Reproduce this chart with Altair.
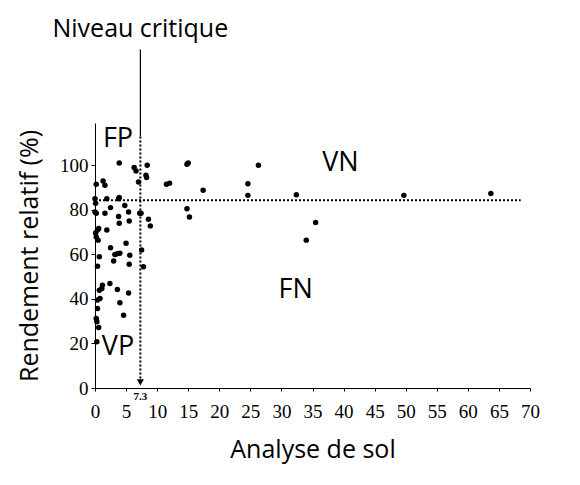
import altair as alt
import pandas as pd

# Soil analysis (x) vs relative yield (%) (y)
sol = [0.2, 1.3, 1.6, 3.9, 6.3, 6.6, 7.0, 8.4, 8.2, 8.3, 11.5, 12.0, 14.8, 15.0,
       0.0, 0.1, 0.0, 0.2, 1.9, 1.6, 2.5, 3.8, 3.9, 4.8, 3.8, 3.9, 5.4, 5.5,
       7.2, 7.4, 8.6, 8.9, 14.8, 15.2,
       0.6, 0.4, 0.1, 0.2, 0.5, 1.9, 2.5, 3.2, 3.6, 4.0, 5.0, 5.6, 5.5, 3.0,
       7.5, 7.8, 0.7, 0.4,
       0.7, 1.1, 1.2, 2.4, 3.6, 5.4, 4.0, 4.6, 0.8, 0.4, 0.4, 0.2, 0.3, 0.6, 0.3,
       17.4, 24.6, 24.6, 26.3, 32.4, 49.7, 63.7, 35.5, 34.0]
rendement = [91.5, 93, 91, 101, 99, 97.5, 92.5, 100, 95.5, 94.5, 91.5, 92, 100.5, 101,
             85, 83, 79, 78.5, 85, 78.5, 81, 85, 85.5, 82, 77, 74, 79, 75,
             78.5, 78.5, 75.8, 72.8, 80.5, 76.8,
             71.6, 70.9, 69.6, 67.8, 66.4, 70.9, 63, 60, 60.3, 60.5, 65, 59.6, 55.6, 57,
             62, 54.4, 58.9, 54.7,
             43.9, 44.7, 46.2, 46.9, 44.2, 42.7, 38.3, 32.7, 40.2, 39.5, 35.7, 31.2, 29.7, 27.2, 20.8,
             88.8, 91.7, 86.5, 100, 86.8, 86.5, 87.3, 74.3, 66.4]

niveau_critique = 7.3
seuil_rendement = 84.3

quadrants = ["FP", "VN", "FN", "VP"]
quad_x = [3.7, 39.5, 32.3, 3.7]
quad_y = [112, 101, 44, 18.4]

x_ticks = list(range(0, 75, 5))
y_ticks = [0, 20, 40, 60, 80, 100]

SANS = "Open Sans"
SERIF = "Liberation Serif"

xs = alt.Scale(domain=[0, 70], nice=False, zero=False)
ys = alt.Scale(domain=[0, 119], nice=False, zero=False)

ax_x = alt.Axis(title="Analyse de sol", values=x_ticks, grid=False,
                labelFont=SERIF, labelFontSize=19, labelColor="black",
                labelPadding=11, tickSize=3, tickColor="black",
                domainColor="black", titleFont=SANS, titleFontSize=25,
                titleFontWeight="normal", titleColor="black",
                titlePadding=16, labelFlush=False, labelOverlap=False)
ax_y = alt.Axis(title="Rendement relatif (%)", values=y_ticks, grid=False,
                labelFont=SERIF, labelFontSize=19, labelColor="black",
                labelPadding=3, tickSize=4, tickColor="black",
                domainColor="black", titleFont=SANS, titleFontSize=25,
                titleFontWeight="normal", titleColor="black",
                titlePadding=17, labelFlush=False, labelOverlap=False)


def X(field):
    return alt.X(field, type="quantitative", scale=xs, axis=ax_x)


def Y(field):
    return alt.Y(field, type="quantitative", scale=ys, axis=ax_y)


df = pd.DataFrame({"sol": sol, "rendement": rendement})
points = alt.Chart(df).mark_circle(size=30, color="black", opacity=1).encode(
    x=X("sol"), y=Y("rendement"))

hline_df = pd.DataFrame({"sol": [0], "x2": [68.5], "rendement": [seuil_rendement]})
hline = alt.Chart(hline_df).mark_rule(color="black", strokeDash=[2, 2], strokeWidth=2).encode(
    x=X("sol"), x2="x2:Q", y=Y("rendement"))

vdot_df = pd.DataFrame({"sol": [niveau_critique], "rendement": [2.5], "y2": [113]})
vdot = alt.Chart(vdot_df).mark_rule(color="black", strokeDash=[2, 2], strokeWidth=2).encode(
    x=X("sol"), y=Y("rendement"), y2="y2:Q")

vsolid_df = pd.DataFrame({"sol": [niveau_critique], "rendement": [113], "y2": [152]})
vsolid = alt.Chart(vsolid_df).mark_rule(color="black", strokeWidth=1.2, clip=False).encode(
    x=X("sol"), y=Y("rendement"), y2="y2:Q")

arrow_df = pd.DataFrame({"sol": [niveau_critique], "rendement": [2.5]})
arrow = alt.Chart(arrow_df).mark_point(shape="triangle-down", filled=True, color="black",
                                       size=50, opacity=1).encode(
    x=X("sol"), y=Y("rendement"))

lab73_df = pd.DataFrame({"sol": [niveau_critique], "rendement": [-4], "t": ["7.3"]})
lab73 = alt.Chart(lab73_df).mark_text(font=SERIF, fontSize=11, fontWeight="bold",
                                      color="black", clip=False).encode(
    x=X("sol"), y=Y("rendement"), text="t:N")

title_df = pd.DataFrame({"sol": [niveau_critique], "rendement": [161], "t": ["Niveau critique"]})
title = alt.Chart(title_df).mark_text(font=SANS, fontSize=25, color="black", clip=False).encode(
    x=X("sol"), y=Y("rendement"), text="t:N")

quad_df = pd.DataFrame({"sol": quad_x, "rendement": quad_y, "t": quadrants})
quad = alt.Chart(quad_df).mark_text(font=SANS, fontSize=27, color="black").encode(
    x=X("sol"), y=Y("rendement"), text="t:N")

chart = alt.layer(hline, vdot, vsolid, arrow, points, lab73, title, quad).properties(
    width=435, height=265,
    background="white",
    autosize=alt.AutoSizeParams(type="none"),
    padding={"left": 87, "top": 115, "right": 40, "bottom": 80},
).configure_view(strokeWidth=0)

chart.save("out.html", embed_options={"renderer": "svg", "actions": False})
